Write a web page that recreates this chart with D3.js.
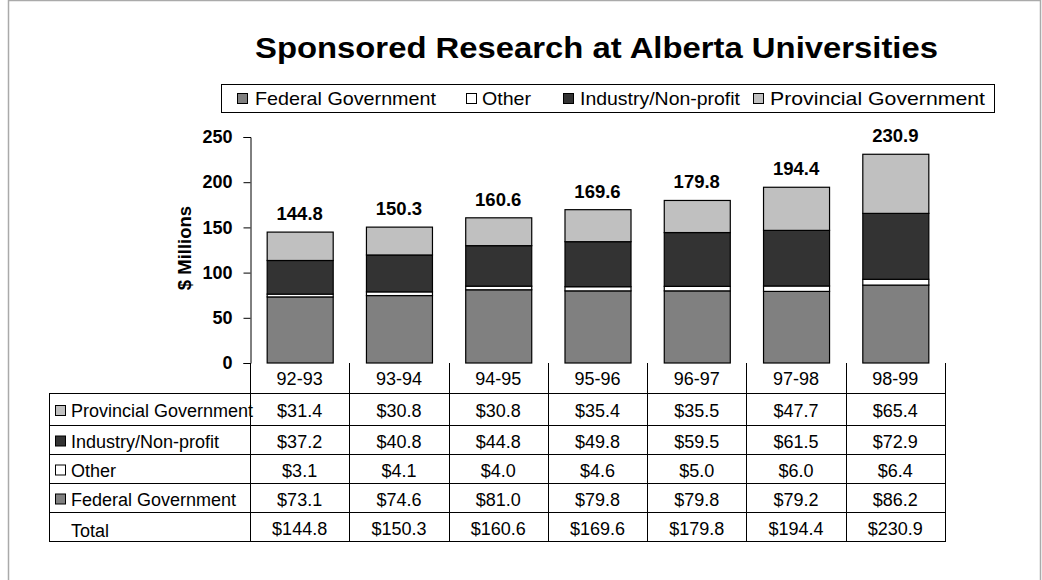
<!DOCTYPE html>
<html><head><meta charset="utf-8">
<script src="https://cdn.jsdelivr.net/npm/d3@7"></script>
<style>body{margin:0;background:#fff}svg{display:block;font-family:"Liberation Sans",Arial,sans-serif}</style>
</head><body><svg id="c" width="1042" height="580"></svg>
<script>
const categories = ["92-93","93-94","94-95","95-96","96-97","97-98","98-99"];
const federal = [73.1,74.6,81.0,79.8,79.8,79.2,86.2];
const other = [3.1,4.1,4.0,4.6,5.0,6.0,6.4];
const industry = [37.2,40.8,44.8,49.8,59.5,61.5,72.9];
const provincial = [31.4,30.8,30.8,35.4,35.5,47.7,65.4];
const totals = [144.8,150.3,160.6,169.6,179.8,194.4,230.9];
const yTicks = [0,50,100,150,200,250];
const seriesNames = ["Federal Government","Other","Industry/Non-profit","Provincial Government"];
const seriesColors = ["#808080","#ffffff","#333333","#c0c0c0"];
const seriesData = [federal, other, industry, provincial];

const svg = d3.select("#c");
// outer frame
svg.append("path").attr("d","M8.5,580 V0.5 H1040.5 V580").attr("fill","none").attr("stroke","#aaa").attr("stroke-width",1.5);

svg.append("text").attr("x",255).attr("y",58)
  .attr("font-size",29).attr("font-weight","bold")
  .attr("textLength",683).attr("lengthAdjust","spacingAndGlyphs")
  .text("Sponsored Research at Alberta Universities");

// legend
const lg = svg.append("g");
lg.append("rect").attr("x",221.5).attr("y",84.5).attr("width",773).attr("height",28).attr("fill","#fff").attr("stroke","#000");
const legSw = [237, 466, 563, 753];
const legTx = [255, 482, 580, 770];
const legW = [181, 49, 160, 215];
seriesNames.forEach((n,i)=>{
  lg.append("rect").attr("x",legSw[i]+0.5).attr("y",93.5).attr("width",10).attr("height",10).attr("fill",seriesColors[i]).attr("stroke","#000");
  lg.append("text").attr("x",legTx[i]).attr("y",105).attr("font-size",19)
    .attr("textLength",legW[i]).attr("lengthAdjust","spacingAndGlyphs").text(n);
});

const x0 = 250, x1 = 945;
const x = d3.scaleBand().domain(categories).range([x0,x1]).paddingInner(0.335).paddingOuter(0.168);
const xc = d3.scaleBand().domain(categories).range([x0,x1]);
const y = d3.scaleLinear().domain([0,250]).range([363,137]);

// y axis
const ya = svg.append("g").attr("transform",`translate(${x0+0.5},0)`)
  .call(d3.axisLeft(y).tickValues(yTicks).tickSize(7).tickPadding(11));
ya.select(".domain").attr("stroke","#000");
ya.selectAll("line").attr("stroke","#000");
ya.selectAll("text").attr("font-size",18).attr("font-weight","bold").attr("font-family","'Liberation Sans',Arial,sans-serif").attr("fill","#000");

svg.append("text").attr("transform","translate(191,248) rotate(-90)").attr("text-anchor","middle")
  .attr("font-size",18.5).attr("font-weight","bold").text("$ Millions");

// bars
const stack = d3.stack().keys(d3.range(4)).value((d,k)=>seriesData[k][d]);
const layers = stack(d3.range(categories.length));
layers.forEach((layer,k)=>{
  svg.append("g").selectAll("rect").data(layer).join("rect")
    .attr("x",(d,i)=>x(categories[i])+0.5).attr("width",x.bandwidth())
    .attr("y",d=>y(d[1])).attr("height",d=>y(d[0])-y(d[1]))
    .attr("fill",seriesColors[k]).attr("stroke","#000").attr("stroke-width",1.2);
});
svg.append("g").selectAll("text").data(totals).join("text")
  .attr("x",(d,i)=>x(categories[i])+x.bandwidth()/2).attr("y",d=>y(d)-12)
  .attr("text-anchor","middle").attr("font-size",18.5).attr("font-weight","bold").text(d=>d.toFixed(1));

// table
const rowsY = [363,393,425,454,483,512,541];
const tb = svg.append("g").attr("stroke","#000").attr("stroke-width",1);
for(let r=1;r<rowsY.length;r++){
  tb.append("line").attr("x1",49).attr("x2",x1+1).attr("y1",rowsY[r]+0.5).attr("y2",rowsY[r]+0.5);
}
tb.append("line").attr("x1",49.5).attr("x2",49.5).attr("y1",393).attr("y2",rowsY[6]+1);
categories.forEach(c=>{
  tb.append("line").attr("x1",Math.round(xc(c))+0.5).attr("x2",Math.round(xc(c))+0.5).attr("y1",363).attr("y2",rowsY[6]+1);
});
tb.append("line").attr("x1",x1+0.5).attr("x2",x1+0.5).attr("y1",363).attr("y2",rowsY[6]+1);

const tt = svg.append("g").attr("font-size",18);
categories.forEach(c=>{
  tt.append("text").attr("x",xc(c)+xc.bandwidth()/2).attr("y",385).attr("text-anchor","middle").text(c);
});
const tableRows = [
  {name:"Provincial Government", vals:provincial, col:seriesColors[3]},
  {name:"Industry/Non-profit", vals:industry, col:seriesColors[2]},
  {name:"Other", vals:other, col:seriesColors[1]},
  {name:"Federal Government", vals:federal, col:seriesColors[0]},
  {name:"Total", vals:totals, col:null}
];
tableRows.forEach((r,ri)=>{
  const cy = (rowsY[ri+1]+rowsY[ri+2])/2;
  const base = cy+8;
  if(r.col){
    tt.append("rect").attr("x",55.5).attr("y",base-11.5).attr("width",10).attr("height",10).attr("fill",r.col).attr("stroke","#000");
    tt.append("text").attr("x",71).attr("y",base).text(r.name);
  } else {
    tt.append("text").attr("x",71).attr("y",base+2).text(r.name);
  }
  r.vals.forEach((v,i)=>{
    tt.append("text").attr("x",xc(categories[i])+xc.bandwidth()/2).attr("y",base).attr("text-anchor","middle").text("$"+v.toFixed(1));
  });
});
</script></body></html>
